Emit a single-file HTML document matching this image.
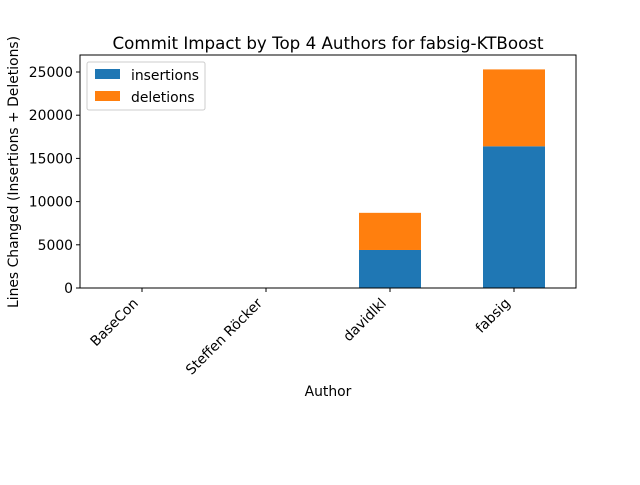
<!DOCTYPE html>
<html><head><meta charset="utf-8"><style>
body{margin:0;background:#fff;}
svg{font-family:"DejaVu Sans","Liberation Sans",sans-serif;}
</style></head><body>
<svg id="c" width="640" height="480" xmlns="http://www.w3.org/2000/svg">
<rect width="640" height="480" fill="#fff"/>
<text x="328" y="49" font-size="16.7" text-anchor="middle">Commit Impact by Top 4 Authors for fabsig-KTBoost</text>
<g id="plot"></g>
<text x="328" y="396" font-size="13.9" text-anchor="middle">Author</text>
<text transform="translate(18,172) rotate(-90)" font-size="13.9" text-anchor="middle">Lines Changed (Insertions + Deletions)</text>
<g>
<rect x="87" y="62" width="118" height="48" fill="#fff" stroke="#ccc" rx="2"/>
<rect x="95" y="69" width="25" height="10" fill="#1f77b4"/>
<text x="131" y="80" font-size="13.9">insertions</text>
<rect x="95" y="91" width="25" height="10" fill="#ff7f0e"/>
<text x="131" y="102" font-size="13.9">deletions</text>
</g>
</svg>
<script>
const authors=["BaseCon","Steffen Röcker","davidlkl","fabsig"];
const insertions=[10,5,4400,16400];
const deletions=[5,3,4300,8900];
const yTicks=[0,5000,10000,15000,20000,25000];
const L=80,R=576,T=55,B=288;
const y=v=>B-v*(216/25000);
const step=(R-L)/authors.length;
const x=i=>L+step*(i+0.5);
const NS="http://www.w3.org/2000/svg";
const g=document.getElementById('plot');
function mk(t,a){const e=document.createElementNS(NS,t);for(const k in a)e.setAttribute(k,a[k]);g.appendChild(e);return e;}
const bw=step*0.5;
authors.forEach((a,i)=>{
  const b1=mk('rect',{x:x(i)-bw/2,y:y(insertions[i]),width:bw,height:B-y(insertions[i]),fill:'#1f77b4'});
  
  
  const tot=insertions[i]+deletions[i];
  const b2=mk('rect',{x:x(i)-bw/2,y:y(tot),width:bw,height:y(insertions[i])-y(tot),fill:'#ff7f0e'});
  
  
  mk('line',{x1:x(i),x2:x(i),y1:B,y2:B+4,stroke:'#000'});
  const t=mk('text',{transform:`translate(${x(i)-3},${B+16}) rotate(-45)`,'font-size':13.9,'text-anchor':'end'});
  t.textContent=a;
  
  
});
yTicks.forEach(v=>{
  mk('line',{x1:L-4,x2:L,y1:y(v),y2:y(v),stroke:'#000'});
  const t=mk('text',{x:L-7,y:y(v)+5,'font-size':13.9,'text-anchor':'end'});
  t.textContent=v;
  
  
});
const f=mk('rect',{x:L,y:T,width:R-L,height:B-T,fill:'none',stroke:'#000','stroke-width':1});


</script>
</body></html>
